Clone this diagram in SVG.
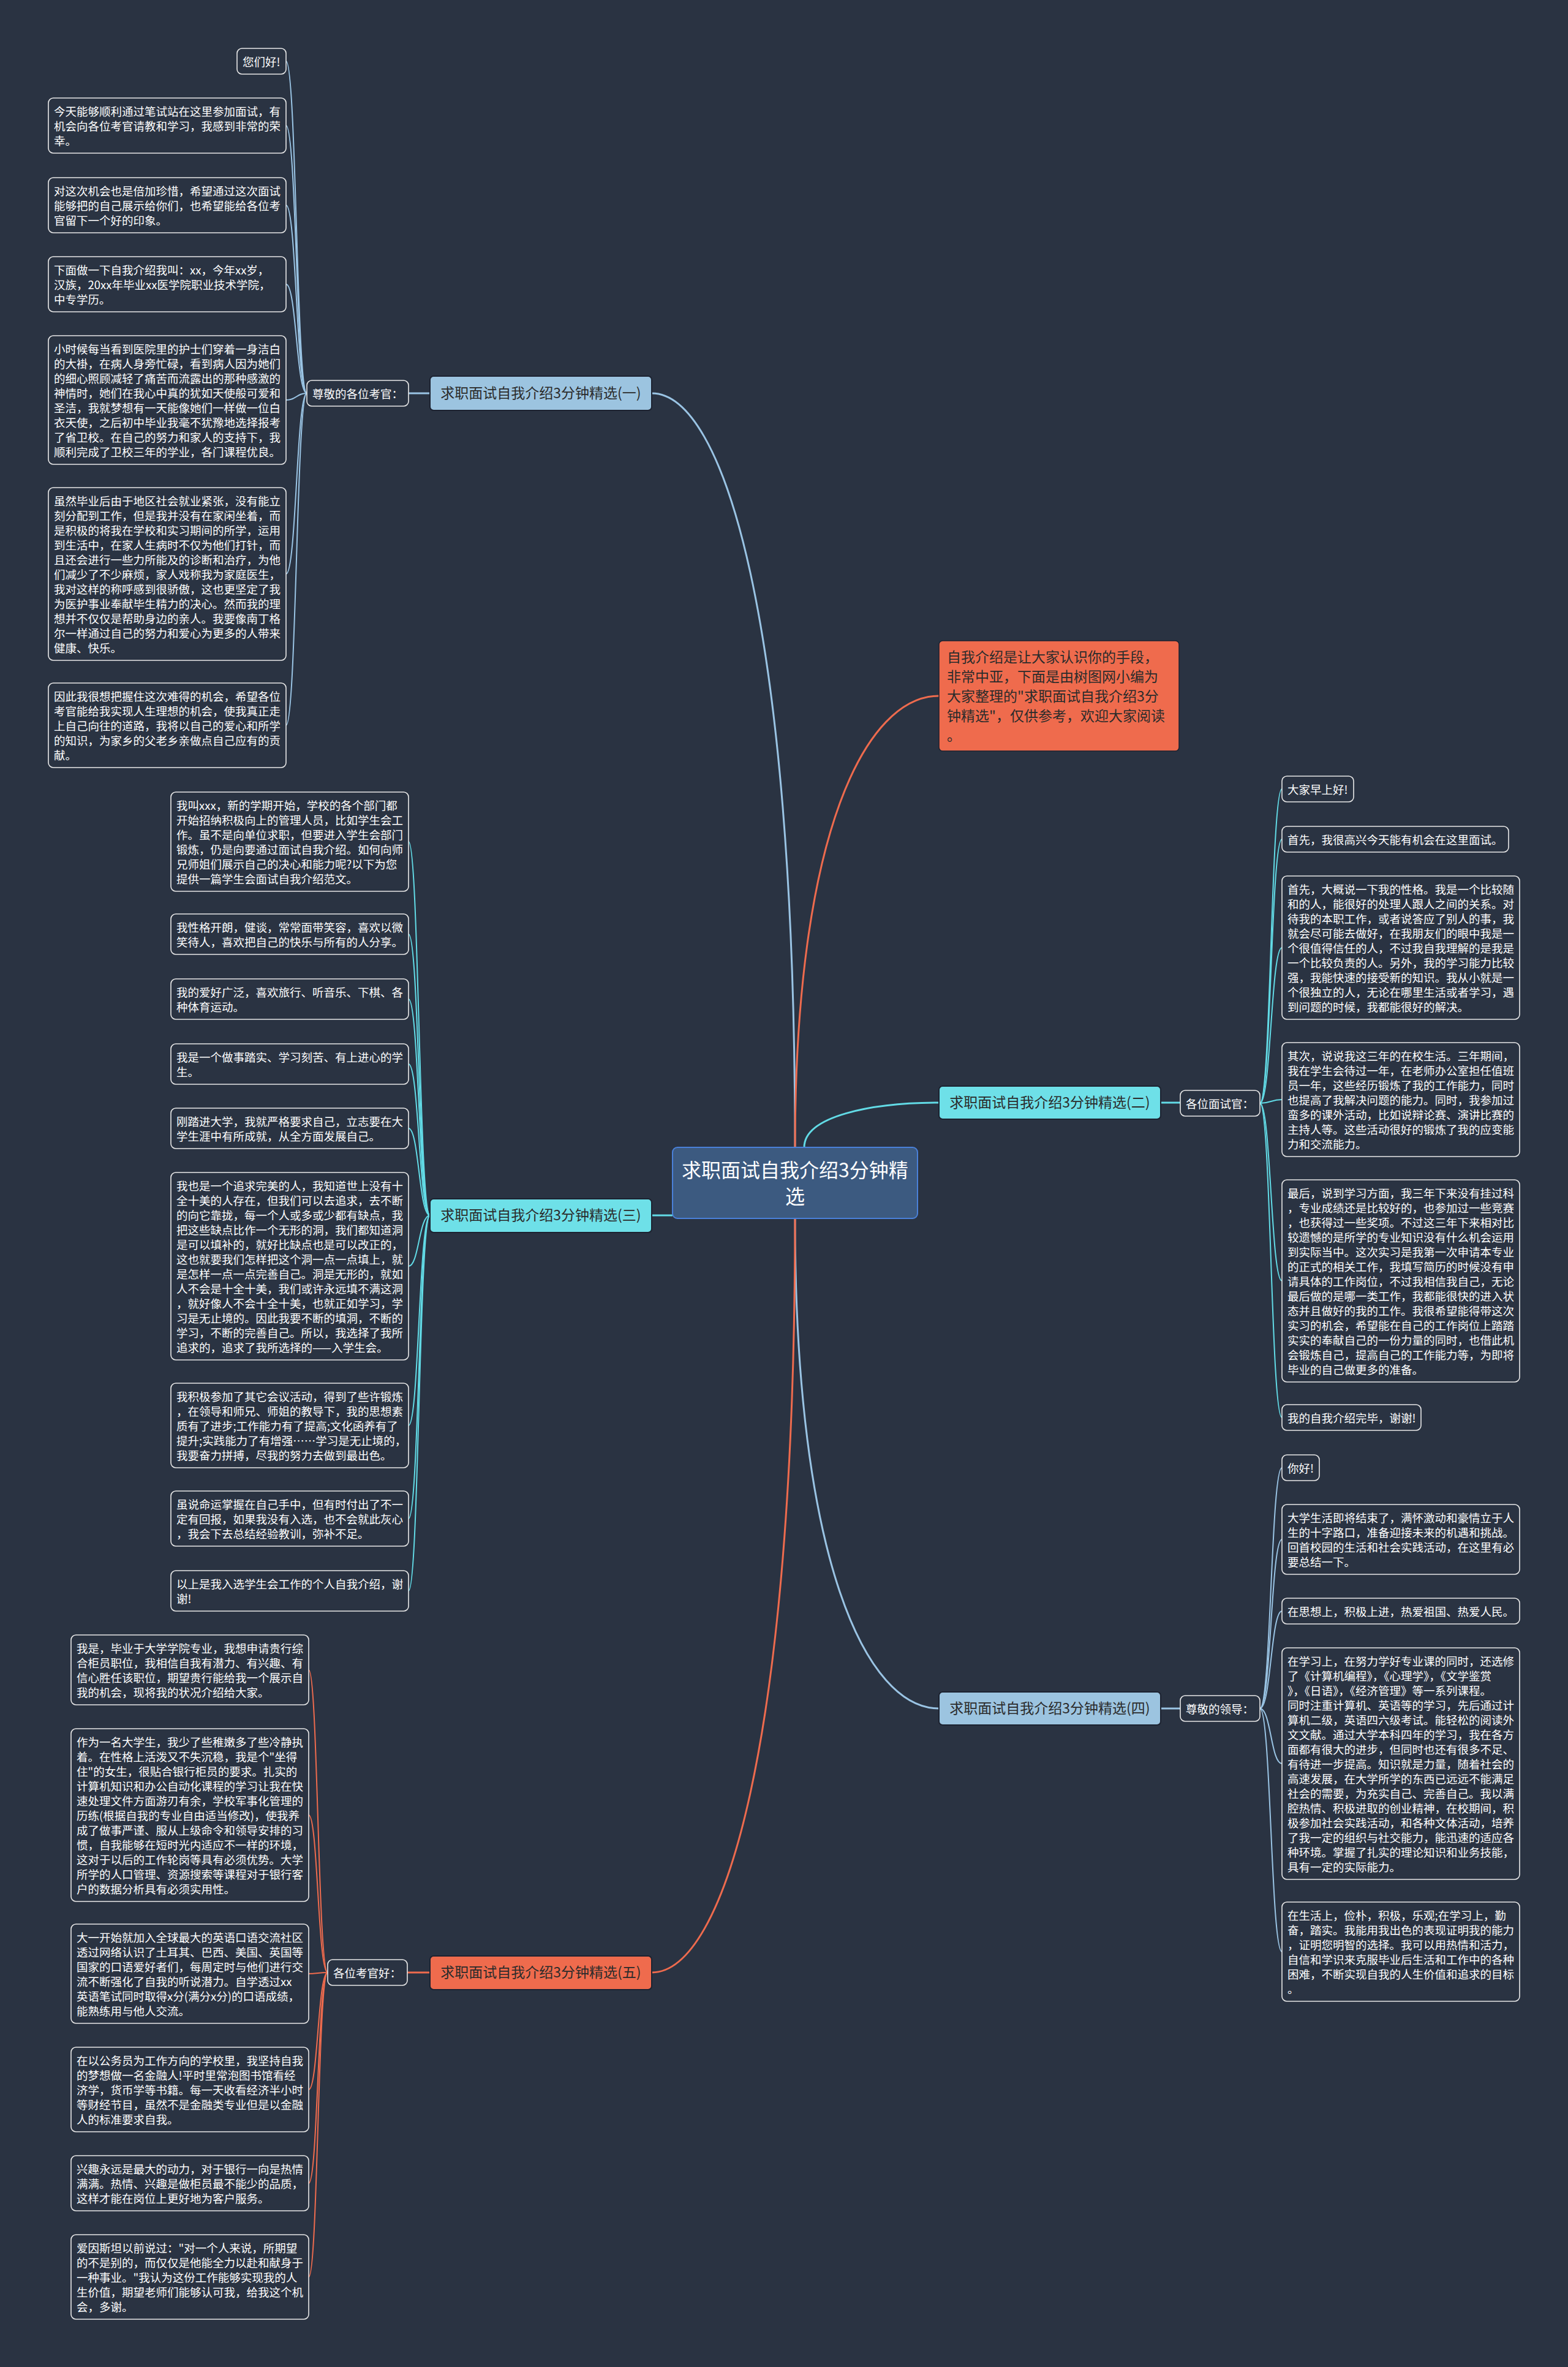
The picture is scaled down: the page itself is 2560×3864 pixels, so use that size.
<svg xmlns="http://www.w3.org/2000/svg" width="2560" height="3864" viewBox="0 0 2560 3864">
<style>
.leaf rect{fill:#2a3342;stroke:#e8e8e8;stroke-width:1.6}
text{font-family:"Noto Sans CJK SC","Noto Sans",sans-serif}
.lt{font-size:18.5px;fill:#ffffff}
.bt{font-size:23px;fill:#2b2b2b;text-anchor:middle}
.br{stroke:#1c2230;stroke-width:2}
.cb{stroke:#9ac4e4;fill:none}
.cc{stroke:#62dbe6;fill:none}
.cr{stroke:#ee6b4e;fill:none}
.w3{stroke-width:3}
.w2{stroke-width:2}
</style>
<rect x="0" y="0" width="2560" height="3864" fill="#2a3342"/>
<g id="connectors">
<path class="cb w3" d="M1298 1873 C1298 1011 1181 642 1064 642"/>
<path class="cr w3" d="M1298 1873 C1298 1357 1415 1136 1533 1136"/>
<path class="cc w3" d="M1313 1873 C1313 1822 1423 1800 1533 1800"/>
<path class="cc w3" d="M1098 1984 L1064 1984"/>
<path class="cb w3" d="M1298 1989 C1298 2549 1415 2789 1533 2789"/>
<path class="cr w3" d="M1298 1989 C1298 2851 1181 3220 1064 3220"/>
<path class="cb w3" d="M702 642 L667 642"/>
<path class="cc w3" d="M1895 1800 L1927 1800"/>
<path class="cb w3" d="M1895 2789 L1927 2789"/>
<path class="cr w3" d="M702 3220 L665 3220"/>
<g class="cb w2">
<path d="M501 642 C484 642 484 100 467 100"/>
<path d="M501 642 C484 642 484 205 467 205"/>
<path d="M501 642 C484 642 484 335 467 335"/>
<path d="M501 642 C484 642 484 464 467 464"/>
<path d="M501 642 C484 642 484 653 467 653"/>
<path d="M501 642 C484 642 484 937 467 937"/>
<path d="M501 642 C484 642 484 1184 467 1184"/>
</g>
<g class="cc w2">
<path d="M702 1984 C684 1984 684 1374 667 1374"/>
<path d="M702 1984 C684 1984 684 1525 667 1525"/>
<path d="M702 1984 C684 1984 684 1631 667 1631"/>
<path d="M702 1984 C684 1984 684 1737 667 1737"/>
<path d="M702 1984 C684 1984 684 1842 667 1842"/>
<path d="M702 1984 C684 1984 684 2067 667 2067"/>
<path d="M702 1984 C684 1984 684 2327 667 2327"/>
<path d="M702 1984 C684 1984 684 2479 667 2479"/>
<path d="M702 1984 C684 1984 684 2597 667 2597"/>
</g>
<g class="cr w2">
<path d="M535 3220 C519 3220 519 2726 504 2726"/>
<path d="M535 3220 C519 3220 519 2963 504 2963"/>
<path d="M535 3220 C519 3220 519 3222 504 3222"/>
<path d="M535 3220 C519 3220 519 3411 504 3411"/>
<path d="M535 3220 C519 3220 519 3564 504 3564"/>
<path d="M535 3220 C519 3220 519 3717 504 3717"/>
</g>
<g class="cc w2">
<path d="M2057 1801 C2075 1801 2075 1288 2093 1288"/>
<path d="M2057 1801 C2075 1801 2075 1370 2093 1370"/>
<path d="M2057 1801 C2075 1801 2075 1547 2093 1547"/>
<path d="M2057 1801 C2075 1801 2075 1795 2093 1795"/>
<path d="M2057 1801 C2075 1801 2075 2091 2093 2091"/>
<path d="M2057 1801 C2075 1801 2075 2314 2093 2314"/>
</g>
<g class="cb w2">
<path d="M2057 2789 C2075 2789 2075 2396 2093 2396"/>
<path d="M2057 2789 C2075 2789 2075 2513 2093 2513"/>
<path d="M2057 2789 C2075 2789 2075 2630 2093 2630"/>
<path d="M2057 2789 C2075 2789 2075 2879 2093 2879"/>
<path d="M2057 2789 C2075 2789 2075 3186 2093 3186"/>
</g>
</g>
<g id="center">
<rect x="1098" y="1873" width="400" height="116" rx="8" fill="#3c5a80" stroke="#4a80d8" stroke-width="2"/>
<text x="1298" y="1922" font-size="32" fill="#ffffff" text-anchor="middle"><tspan x="1298">求职面试自我介绍3分钟精</tspan><tspan x="1298" dy="43">选</tspan></text>
</g>
<g id="intro">
<rect x="1533" y="1046" width="392" height="180" rx="6" fill="#ef6b4d" stroke="#1c2230" stroke-width="1.5"/>
<text x="1546" y="1081" font-size="23" fill="#2b2b2b"><tspan x="1546">自我介绍是让大家认识你的手段，</tspan><tspan x="1546" dy="32">非常中亚，下面是由树图网小编为</tspan><tspan x="1546" dy="32">大家整理的"求职面试自我介绍3分</tspan><tspan x="1546" dy="32">钟精选"，仅供参考，欢迎大家阅读</tspan><tspan x="1546" dy="32">。</tspan></text>
</g>
<g id="b1"><rect class="br" x="702" y="614" width="362" height="56" rx="6" fill="#9cc4e0"/><text class="bt" x="883" y="650">求职面试自我介绍3分钟精选(一)</text></g>
<g id="b2"><rect class="br" x="1533" y="1773" width="362" height="54" rx="6" fill="#6ee0e8"/><text class="bt" x="1714" y="1808">求职面试自我介绍3分钟精选(二)</text></g>
<g id="b3"><rect class="br" x="702" y="1957" width="362" height="55" rx="6" fill="#6ee0e8"/><text class="bt" x="883" y="1992">求职面试自我介绍3分钟精选(三)</text></g>
<g id="b4"><rect class="br" x="1533" y="2762" width="362" height="54" rx="6" fill="#9cc4e0"/><text class="bt" x="1714" y="2797">求职面试自我介绍3分钟精选(四)</text></g>
<g id="b5"><rect class="br" x="702" y="3193" width="362" height="55" rx="6" fill="#ef6b4d"/><text class="bt" x="883" y="3228">求职面试自我介绍3分钟精选(五)</text></g>
<g id="lab1" class="leaf"><rect x="501" y="621" width="166" height="42" rx="8"/><text class="lt" x="510" y="650">尊敬的各位考官：</text></g>
<g id="lab2" class="leaf"><rect x="1927" y="1780" width="130" height="42" rx="8"/><text class="lt" x="1936" y="1809">各位面试官：</text></g>
<g id="lab4" class="leaf"><rect x="1927" y="2768" width="130" height="42" rx="8"/><text class="lt" x="1936" y="2797">尊敬的领导：</text></g>
<g id="lab5" class="leaf"><rect x="535" y="3199" width="130" height="42" rx="8"/><text class="lt" x="544" y="3228">各位考官好：</text></g>
<g id="n1-1" class="leaf"><rect x="387" y="79" width="80" height="42" rx="8"/><text class="lt" x="396" y="108">您们好!</text></g>
<g id="n1-2" class="leaf"><rect x="79" y="160" width="388" height="90" rx="8"/><text class="lt" y="189"><tspan x="88">今天能够顺利通过笔试站在这里参加面试，有</tspan><tspan x="88" dy="24">机会向各位考官请教和学习，我感到非常的荣</tspan><tspan x="88" dy="24">幸。</tspan></text></g>
<g id="n1-3" class="leaf"><rect x="79" y="290" width="388" height="90" rx="8"/><text class="lt" y="319"><tspan x="88">对这次机会也是倍加珍惜，希望通过这次面试</tspan><tspan x="88" dy="24">能够把的自己展示给你们，也希望能给各位考</tspan><tspan x="88" dy="24">官留下一个好的印象。</tspan></text></g>
<g id="n1-4" class="leaf"><rect x="79" y="419" width="388" height="90" rx="8"/><text class="lt" y="448"><tspan x="88">下面做一下自我介绍我叫：xx，今年xx岁，</tspan><tspan x="88" dy="24">汉族，20xx年毕业xx医学院职业技术学院，</tspan><tspan x="88" dy="24">中专学历。</tspan></text></g>
<g id="n1-5" class="leaf"><rect x="79" y="548" width="388" height="210" rx="8"/><text class="lt" y="577"><tspan x="88">小时候每当看到医院里的护士们穿着一身洁白</tspan><tspan x="88" dy="24">的大褂，在病人身旁忙碌，看到病人因为她们</tspan><tspan x="88" dy="24">的细心照顾减轻了痛苦而流露出的那种感激的</tspan><tspan x="88" dy="24">神情时，她们在我心中真的犹如天使般可爱和</tspan><tspan x="88" dy="24">圣洁，我就梦想有一天能像她们一样做一位白</tspan><tspan x="88" dy="24">衣天使，之后初中毕业我毫不犹豫地选择报考</tspan><tspan x="88" dy="24">了省卫校。在自己的努力和家人的支持下，我</tspan><tspan x="88" dy="24">顺利完成了卫校三年的学业，各门课程优良。</tspan></text></g>
<g id="n1-6" class="leaf"><rect x="79" y="796" width="388" height="282" rx="8"/><text class="lt" y="825"><tspan x="88">虽然毕业后由于地区社会就业紧张，没有能立</tspan><tspan x="88" dy="24">刻分配到工作，但是我并没有在家闲坐着，而</tspan><tspan x="88" dy="24">是积极的将我在学校和实习期间的所学，运用</tspan><tspan x="88" dy="24">到生活中，在家人生病时不仅为他们打针，而</tspan><tspan x="88" dy="24">且还会进行一些力所能及的诊断和治疗，为他</tspan><tspan x="88" dy="24">们减少了不少麻烦，家人戏称我为家庭医生，</tspan><tspan x="88" dy="24">我对这样的称呼感到很骄傲，这也更坚定了我</tspan><tspan x="88" dy="24">为医护事业奉献毕生精力的决心。然而我的理</tspan><tspan x="88" dy="24">想并不仅仅是帮助身边的亲人。我要像南丁格</tspan><tspan x="88" dy="24">尔一样通过自己的努力和爱心为更多的人带来</tspan><tspan x="88" dy="24">健康、快乐。</tspan></text></g>
<g id="n1-7" class="leaf"><rect x="79" y="1115" width="388" height="138" rx="8"/><text class="lt" y="1144"><tspan x="88">因此我很想把握住这次难得的机会，希望各位</tspan><tspan x="88" dy="24">考官能给我实现人生理想的机会，使我真正走</tspan><tspan x="88" dy="24">上自己向往的道路，我将以自己的爱心和所学</tspan><tspan x="88" dy="24">的知识，为家乡的父老乡亲做点自己应有的贡</tspan><tspan x="88" dy="24">献。</tspan></text></g>
<g id="n3-1" class="leaf"><rect x="279" y="1293" width="388" height="162" rx="8"/><text class="lt" y="1322"><tspan x="288">我叫xxx，新的学期开始，学校的各个部门都</tspan><tspan x="288" dy="24">开始招纳积极向上的管理人员，比如学生会工</tspan><tspan x="288" dy="24">作。虽不是向单位求职，但要进入学生会部门</tspan><tspan x="288" dy="24">锻炼，仍是向要通过面试自我介绍。如何向师</tspan><tspan x="288" dy="24">兄师姐们展示自己的决心和能力呢?以下为您</tspan><tspan x="288" dy="24">提供一篇学生会面试自我介绍范文。</tspan></text></g>
<g id="n3-2" class="leaf"><rect x="279" y="1492" width="388" height="66" rx="8"/><text class="lt" y="1521"><tspan x="288">我性格开朗，健谈，常常面带笑容，喜欢以微</tspan><tspan x="288" dy="24">笑待人，喜欢把自己的快乐与所有的人分享。</tspan></text></g>
<g id="n3-3" class="leaf"><rect x="279" y="1598" width="388" height="66" rx="8"/><text class="lt" y="1627"><tspan x="288">我的爱好广泛，喜欢旅行、听音乐、下棋、各</tspan><tspan x="288" dy="24">种体育运动。</tspan></text></g>
<g id="n3-4" class="leaf"><rect x="279" y="1704" width="388" height="66" rx="8"/><text class="lt" y="1733"><tspan x="288">我是一个做事踏实、学习刻苦、有上进心的学</tspan><tspan x="288" dy="24">生。</tspan></text></g>
<g id="n3-5" class="leaf"><rect x="279" y="1809" width="388" height="66" rx="8"/><text class="lt" y="1838"><tspan x="288">刚踏进大学，我就严格要求自己，立志要在大</tspan><tspan x="288" dy="24">学生涯中有所成就，从全方面发展自己。</tspan></text></g>
<g id="n3-6" class="leaf"><rect x="279" y="1914" width="388" height="306" rx="8"/><text class="lt" y="1943"><tspan x="288">我也是一个追求完美的人，我知道世上没有十</tspan><tspan x="288" dy="24">全十美的人存在，但我们可以去追求，去不断</tspan><tspan x="288" dy="24">的向它靠拢，每一个人或多或少都有缺点，我</tspan><tspan x="288" dy="24">把这些缺点比作一个无形的洞，我们都知道洞</tspan><tspan x="288" dy="24">是可以填补的，就好比缺点也是可以改正的，</tspan><tspan x="288" dy="24">这也就要我们怎样把这个洞一点一点填上，就</tspan><tspan x="288" dy="24">是怎样一点一点完善自己。洞是无形的，就如</tspan><tspan x="288" dy="24">人不会是十全十美，我们或许永远填不满这洞</tspan><tspan x="288" dy="24">，就好像人不会十全十美，也就正如学习，学</tspan><tspan x="288" dy="24">习是无止境的。因此我要不断的填洞，不断的</tspan><tspan x="288" dy="24">学习，不断的完善自己。所以，我选择了我所</tspan><tspan x="288" dy="24">追求的，追求了我所选择的——入学生会。</tspan></text></g>
<g id="n3-7" class="leaf"><rect x="279" y="2258" width="388" height="138" rx="8"/><text class="lt" y="2287"><tspan x="288">我积极参加了其它会议活动，得到了些许锻炼</tspan><tspan x="288" dy="24">，在领导和师兄、师姐的教导下，我的思想素</tspan><tspan x="288" dy="24">质有了进步;工作能力有了提高;文化函养有了</tspan><tspan x="288" dy="24">提升;实践能力了有增强……学习是无止境的，</tspan><tspan x="288" dy="24">我要奋力拼搏，尽我的努力去做到最出色。</tspan></text></g>
<g id="n3-8" class="leaf"><rect x="279" y="2434" width="388" height="90" rx="8"/><text class="lt" y="2463"><tspan x="288">虽说命运掌握在自己手中，但有时付出了不一</tspan><tspan x="288" dy="24">定有回报，如果我没有入选，也不会就此灰心</tspan><tspan x="288" dy="24">，我会下去总结经验教训，弥补不足。</tspan></text></g>
<g id="n3-9" class="leaf"><rect x="279" y="2564" width="388" height="66" rx="8"/><text class="lt" y="2593"><tspan x="288">以上是我入选学生会工作的个人自我介绍，谢</tspan><tspan x="288" dy="24">谢!</tspan></text></g>
<g id="n5-1" class="leaf"><rect x="116" y="2669" width="388" height="114" rx="8"/><text class="lt" y="2698"><tspan x="125">我是，毕业于大学学院专业，我想申请贵行综</tspan><tspan x="125" dy="24">合柜员职位，我相信自我有潜力、有兴趣、有</tspan><tspan x="125" dy="24">信心胜任该职位，期望贵行能给我一个展示自</tspan><tspan x="125" dy="24">我的机会，现将我的状况介绍给大家。</tspan></text></g>
<g id="n5-2" class="leaf"><rect x="116" y="2822" width="388" height="282" rx="8"/><text class="lt" y="2851"><tspan x="125">作为一名大学生，我少了些稚嫩多了些冷静执</tspan><tspan x="125" dy="24">着。在性格上活泼又不失沉稳，我是个"坐得</tspan><tspan x="125" dy="24">住"的女生，很贴合银行柜员的要求。扎实的</tspan><tspan x="125" dy="24">计算机知识和办公自动化课程的学习让我在快</tspan><tspan x="125" dy="24">速处理文件方面游刃有余，学校军事化管理的</tspan><tspan x="125" dy="24">历练(根据自我的专业自由适当修改)，使我养</tspan><tspan x="125" dy="24">成了做事严谨、服从上级命令和领导安排的习</tspan><tspan x="125" dy="24">惯，自我能够在短时光内适应不一样的环境，</tspan><tspan x="125" dy="24">这对于以后的工作轮岗等具有必须优势。大学</tspan><tspan x="125" dy="24">所学的人口管理、资源搜索等课程对于银行客</tspan><tspan x="125" dy="24">户的数据分析具有必须实用性。</tspan></text></g>
<g id="n5-3" class="leaf"><rect x="116" y="3141" width="388" height="162" rx="8"/><text class="lt" y="3170"><tspan x="125">大一开始就加入全球最大的英语口语交流社区</tspan><tspan x="125" dy="24">透过网络认识了土耳其、巴西、美国、英国等</tspan><tspan x="125" dy="24">国家的口语爱好者们，每周定时与他们进行交</tspan><tspan x="125" dy="24">流不断强化了自我的听说潜力。自学透过xx</tspan><tspan x="125" dy="24">英语笔试同时取得x分(满分x分)的口语成绩，</tspan><tspan x="125" dy="24">能熟练用与他人交流。</tspan></text></g>
<g id="n5-4" class="leaf"><rect x="116" y="3342" width="388" height="138" rx="8"/><text class="lt" y="3371"><tspan x="125">在以公务员为工作方向的学校里，我坚持自我</tspan><tspan x="125" dy="24">的梦想做一名金融人!平时里常泡图书馆看经</tspan><tspan x="125" dy="24">济学，货币学等书籍。每一天收看经济半小时</tspan><tspan x="125" dy="24">等财经节目，虽然不是金融类专业但是以金融</tspan><tspan x="125" dy="24">人的标准要求自我。</tspan></text></g>
<g id="n5-5" class="leaf"><rect x="116" y="3519" width="388" height="90" rx="8"/><text class="lt" y="3548"><tspan x="125">兴趣永远是最大的动力，对于银行一向是热情</tspan><tspan x="125" dy="24">满满。热情、兴趣是做柜员最不能少的品质，</tspan><tspan x="125" dy="24">这样才能在岗位上更好地为客户服务。</tspan></text></g>
<g id="n5-6" class="leaf"><rect x="116" y="3648" width="388" height="138" rx="8"/><text class="lt" y="3677"><tspan x="125">爱因斯坦以前说过："对一个人来说，所期望</tspan><tspan x="125" dy="24">的不是别的，而仅仅是他能全力以赴和献身于</tspan><tspan x="125" dy="24">一种事业。"我认为这份工作能够实现我的人</tspan><tspan x="125" dy="24">生价值，期望老师们能够认可我，给我这个机</tspan><tspan x="125" dy="24">会，多谢。</tspan></text></g>
<g id="n2-1" class="leaf"><rect x="2093" y="1267" width="117" height="42" rx="8"/><text class="lt" x="2102" y="1296">大家早上好!</text></g>
<g id="n2-2" class="leaf"><rect x="2093" y="1349" width="370" height="42" rx="8"/><text class="lt" x="2102" y="1378">首先，我很高兴今天能有机会在这里面试。</text></g>
<g id="n2-3" class="leaf"><rect x="2093" y="1430" width="388" height="234" rx="8"/><text class="lt" y="1459"><tspan x="2102">首先，大概说一下我的性格。我是一个比较随</tspan><tspan x="2102" dy="24">和的人，能很好的处理人跟人之间的关系。对</tspan><tspan x="2102" dy="24">待我的本职工作，或者说答应了别人的事，我</tspan><tspan x="2102" dy="24">就会尽可能去做好，在我朋友们的眼中我是一</tspan><tspan x="2102" dy="24">个很值得信任的人，不过我自我理解的是我是</tspan><tspan x="2102" dy="24">一个比较负责的人。另外，我的学习能力比较</tspan><tspan x="2102" dy="24">强，我能快速的接受新的知识。我从小就是一</tspan><tspan x="2102" dy="24">个很独立的人，无论在哪里生活或者学习，遇</tspan><tspan x="2102" dy="24">到问题的时候，我都能很好的解决。</tspan></text></g>
<g id="n2-4" class="leaf"><rect x="2093" y="1702" width="388" height="186" rx="8"/><text class="lt" y="1731"><tspan x="2102">其次，说说我这三年的在校生活。三年期间，</tspan><tspan x="2102" dy="24">我在学生会待过一年，在老师办公室担任值班</tspan><tspan x="2102" dy="24">员一年，这些经历锻炼了我的工作能力，同时</tspan><tspan x="2102" dy="24">也提高了我解决问题的能力。同时，我参加过</tspan><tspan x="2102" dy="24">蛮多的课外活动，比如说辩论赛、演讲比赛的</tspan><tspan x="2102" dy="24">主持人等。这些活动很好的锻炼了我的应变能</tspan><tspan x="2102" dy="24">力和交流能力。</tspan></text></g>
<g id="n2-5" class="leaf"><rect x="2093" y="1926" width="388" height="330" rx="8"/><text class="lt" y="1955"><tspan x="2102">最后，说到学习方面，我三年下来没有挂过科</tspan><tspan x="2102" dy="24">，专业成绩还是比较好的，也参加过一些竞赛</tspan><tspan x="2102" dy="24">，也获得过一些奖项。不过这三年下来相对比</tspan><tspan x="2102" dy="24">较遗憾的是所学的专业知识没有什么机会运用</tspan><tspan x="2102" dy="24">到实际当中。这次实习是我第一次申请本专业</tspan><tspan x="2102" dy="24">的正式的相关工作，我填写简历的时候没有申</tspan><tspan x="2102" dy="24">请具体的工作岗位，不过我相信我自己，无论</tspan><tspan x="2102" dy="24">最后做的是哪一类工作，我都能很快的进入状</tspan><tspan x="2102" dy="24">态并且做好的我的工作。我很希望能得带这次</tspan><tspan x="2102" dy="24">实习的机会，希望能在自己的工作岗位上踏踏</tspan><tspan x="2102" dy="24">实实的奉献自己的一份力量的同时，也借此机</tspan><tspan x="2102" dy="24">会锻炼自己，提高自己的工作能力等，为即将</tspan><tspan x="2102" dy="24">毕业的自己做更多的准备。</tspan></text></g>
<g id="n2-6" class="leaf"><rect x="2093" y="2293" width="227" height="42" rx="8"/><text class="lt" x="2102" y="2322">我的自我介绍完毕，谢谢!</text></g>
<g id="n4-1" class="leaf"><rect x="2093" y="2375" width="61" height="42" rx="8"/><text class="lt" x="2102" y="2404">你好!</text></g>
<g id="n4-2" class="leaf"><rect x="2093" y="2456" width="388" height="114" rx="8"/><text class="lt" y="2485"><tspan x="2102">大学生活即将结束了，满怀激动和豪情立于人</tspan><tspan x="2102" dy="24">生的十字路口，准备迎接未来的机遇和挑战。</tspan><tspan x="2102" dy="24">回首校园的生活和社会实践活动，在这里有必</tspan><tspan x="2102" dy="24">要总结一下。</tspan></text></g>
<g id="n4-3" class="leaf"><rect x="2093" y="2609" width="388" height="42" rx="8"/><text class="lt" x="2102" y="2638">在思想上，积极上进，热爱祖国、热爱人民。</text></g>
<g id="n4-4" class="leaf"><rect x="2093" y="2690" width="388" height="378" rx="8"/><text class="lt" y="2719"><tspan x="2102">在学习上，在努力学好专业课的同时，还选修</tspan><tspan x="2102" dy="24">了《计算机编程》，《心理学》，《文学鉴赏</tspan><tspan x="2102" dy="24">》，《日语》，《经济管理》等一系列课程。</tspan><tspan x="2102" dy="24">同时注重计算机、英语等的学习，先后通过计</tspan><tspan x="2102" dy="24">算机二级，英语四六级考试。能轻松的阅读外</tspan><tspan x="2102" dy="24">文文献。通过大学本科四年的学习，我在各方</tspan><tspan x="2102" dy="24">面都有很大的进步，但同时也还有很多不足、</tspan><tspan x="2102" dy="24">有待进一步提高。知识就是力量，随着社会的</tspan><tspan x="2102" dy="24">高速发展，在大学所学的东西已远远不能满足</tspan><tspan x="2102" dy="24">社会的需要，为充实自己、完善自己。我以满</tspan><tspan x="2102" dy="24">腔热情、积极进取的创业精神，在校期间，积</tspan><tspan x="2102" dy="24">极参加社会实践活动，和各种文体活动，培养</tspan><tspan x="2102" dy="24">了我一定的组织与社交能力，能迅速的适应各</tspan><tspan x="2102" dy="24">种环境。掌握了扎实的理论知识和业务技能，</tspan><tspan x="2102" dy="24">具有一定的实际能力。</tspan></text></g>
<g id="n4-5" class="leaf"><rect x="2093" y="3105" width="388" height="162" rx="8"/><text class="lt" y="3134"><tspan x="2102">在生活上，俭朴，积极，乐观;在学习上，勤</tspan><tspan x="2102" dy="24">奋，踏实。我能用我出色的表现证明我的能力</tspan><tspan x="2102" dy="24">，证明您明智的选择。我可以用热情和活力，</tspan><tspan x="2102" dy="24">自信和学识来克服毕业后生活和工作中的各种</tspan><tspan x="2102" dy="24">困难，不断实现自我的人生价值和追求的目标</tspan><tspan x="2102" dy="24">。</tspan></text></g>
</svg>
